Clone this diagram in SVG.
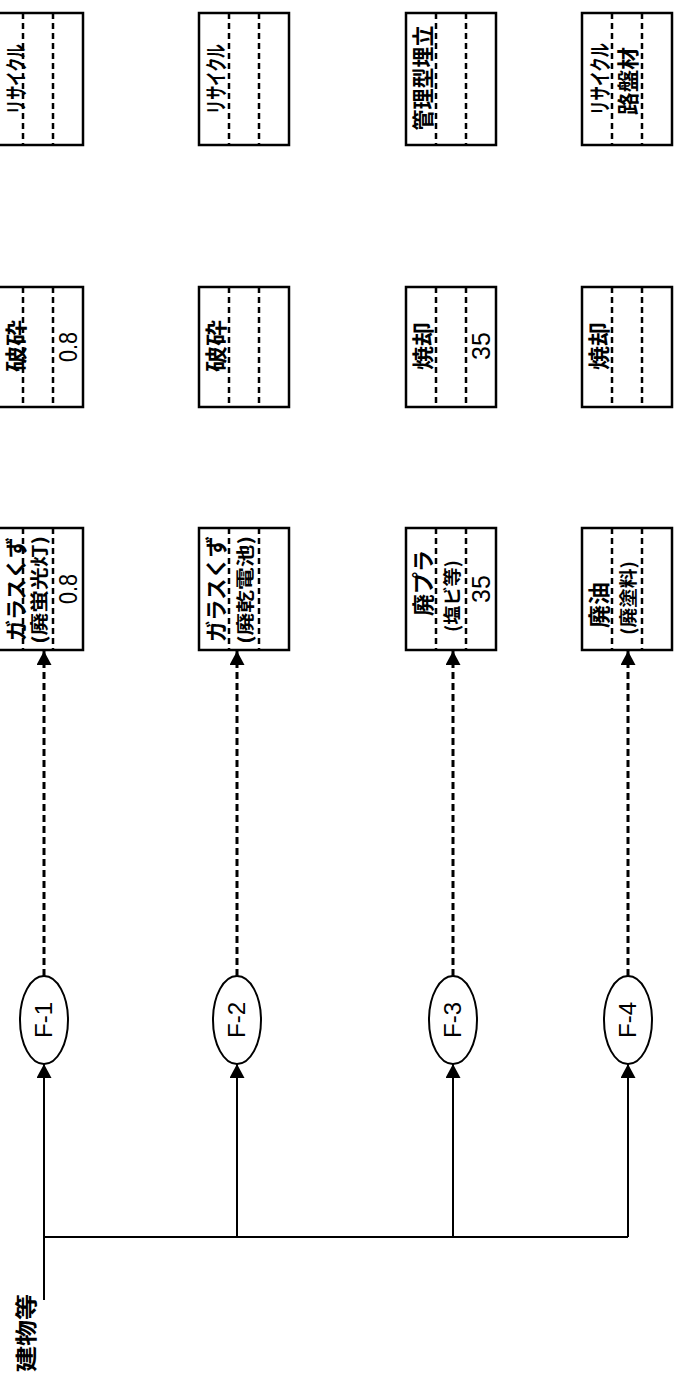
<svg xmlns="http://www.w3.org/2000/svg" width="677" height="1383" viewBox="0 0 677 1383">
<style>
.box{fill:#fff;stroke:#000;stroke-width:2.5}
.div{stroke:#000;stroke-width:2.5;stroke-dasharray:6 4;fill:none}
.jp{font-family:"Noto Sans CJK JP","Noto Sans",sans-serif;font-size:22px;font-weight:bold;fill:#000;text-anchor:middle;dominant-baseline:central}
.sub{font-family:"Noto Sans CJK JP","Noto Sans",sans-serif;font-size:18px;font-weight:bold;fill:#000;text-anchor:middle;dominant-baseline:central}
.num{font-family:"Liberation Sans",Arial,sans-serif;font-size:25px;fill:#000;text-anchor:middle;dominant-baseline:central}
.fl{font-family:"Liberation Sans",Arial,sans-serif;font-size:23px;fill:#000;text-anchor:middle;dominant-baseline:central}
.ell{fill:#fff;stroke:#000;stroke-width:2}
.sol{stroke:#000;stroke-width:2;fill:none}
.dsh{stroke:#000;stroke-width:3;stroke-dasharray:7 4;fill:none}
</style>
<defs>
<marker id="ah" viewBox="0 0 14 15" refX="14" refY="7.5" markerWidth="14" markerHeight="15" markerUnits="userSpaceOnUse" orient="auto"><path d="M0,0 L14,7.5 L0,15 z" fill="#000"/></marker>
</defs>

<g id="connectors">
<path class="sol" d="M44,1300 L44,1237 L628,1237"/>
<line class="sol" x1="44" y1="1237" x2="44" y2="1064" marker-end="url(#ah)"/>
<line class="sol" x1="237" y1="1237" x2="237" y2="1064" marker-end="url(#ah)"/>
<line class="sol" x1="453" y1="1237" x2="453" y2="1064" marker-end="url(#ah)"/>
<line class="sol" x1="628" y1="1237" x2="628" y2="1064" marker-end="url(#ah)"/>
<line class="dsh" x1="44" y1="976" x2="44" y2="651" marker-end="url(#ah)"/>
<line class="dsh" x1="237" y1="976" x2="237" y2="651" marker-end="url(#ah)"/>
<line class="dsh" x1="453" y1="976" x2="453" y2="651" marker-end="url(#ah)"/>
<line class="dsh" x1="628" y1="976" x2="628" y2="651" marker-end="url(#ah)"/>
</g>

<g id="source">
<text class="jp" transform="translate(24,1333) rotate(-90)" textLength="78" lengthAdjust="spacingAndGlyphs">建物等</text>
</g>

<g id="F-1"><ellipse class="ell" cx="44" cy="1020" rx="24" ry="44"/><text class="fl" transform="translate(44,1020) rotate(-90)" textLength="36" lengthAdjust="spacingAndGlyphs">F-1</text></g>
<g id="F-2"><ellipse class="ell" cx="237" cy="1020" rx="24" ry="44"/><text class="fl" transform="translate(237,1020) rotate(-90)" textLength="36" lengthAdjust="spacingAndGlyphs">F-2</text></g>
<g id="F-3"><ellipse class="ell" cx="453" cy="1020" rx="24" ry="44"/><text class="fl" transform="translate(453,1020) rotate(-90)" textLength="36" lengthAdjust="spacingAndGlyphs">F-3</text></g>
<g id="F-4"><ellipse class="ell" cx="628" cy="1020" rx="24" ry="44"/><text class="fl" transform="translate(628,1020) rotate(-90)" textLength="36" lengthAdjust="spacingAndGlyphs">F-4</text></g>

<!-- Row C -->
<g id="c1">
<rect class="box" x="-7" y="528" width="90" height="122"/>
<path class="div" d="M23,528 V650 M53,528 V650"/>
<text class="jp" transform="translate(14,589) rotate(-90)" font-size="17" textLength="104" lengthAdjust="spacingAndGlyphs">ガラスくず</text>
<text class="sub" transform="translate(38,590) rotate(-90)" textLength="108" lengthAdjust="spacingAndGlyphs">(廃蛍光灯)</text>
<text class="num" transform="translate(68,589) rotate(-90)" textLength="30" lengthAdjust="spacingAndGlyphs">0.8</text>
</g>
<g id="c2">
<rect class="box" x="199" y="528" width="90" height="122"/>
<path class="div" d="M229,528 V650 M259,528 V650"/>
<text class="jp" transform="translate(214,589) rotate(-90)" textLength="106" lengthAdjust="spacingAndGlyphs">ガラスくず</text>
<text class="sub" transform="translate(244,590) rotate(-90)" textLength="108" lengthAdjust="spacingAndGlyphs">(廃乾電池)</text>
</g>
<g id="c3">
<rect class="box" x="406" y="528" width="90" height="122"/>
<path class="div" d="M436,528 V650 M466,528 V650"/>
<text class="jp" transform="translate(421,583) rotate(-90)" textLength="66" lengthAdjust="spacingAndGlyphs">廃プラ</text>
<text class="sub" transform="translate(451,596) rotate(-90)" textLength="72" lengthAdjust="spacingAndGlyphs">(塩ビ等)</text>
<text class="num" transform="translate(481,589) rotate(-90)">35</text>
</g>
<g id="c4">
<rect class="box" x="582" y="528" width="90" height="122"/>
<path class="div" d="M612,528 V650 M642,528 V650"/>
<text class="jp" transform="translate(597,605) rotate(-90)" textLength="46" lengthAdjust="spacingAndGlyphs">廃油</text>
<text class="sub" transform="translate(627,598) rotate(-90)" textLength="74" lengthAdjust="spacingAndGlyphs">(廃塗料)</text>
</g>

<!-- Row B -->
<g id="b1">
<rect class="box" x="-7" y="287" width="90" height="120"/>
<path class="div" d="M23,287 V407 M53,287 V407"/>
<text class="jp" transform="translate(14,346) rotate(-90)" font-size="17" textLength="52" lengthAdjust="spacingAndGlyphs">破砕</text>
<text class="num" transform="translate(68,347) rotate(-90)" textLength="30" lengthAdjust="spacingAndGlyphs">0.8</text>
</g>
<g id="b2">
<rect class="box" x="199" y="287" width="90" height="120"/>
<path class="div" d="M229,287 V407 M259,287 V407"/>
<text class="jp" transform="translate(214,346) rotate(-90)" textLength="52" lengthAdjust="spacingAndGlyphs">破砕</text>
</g>
<g id="b3">
<rect class="box" x="406" y="287" width="90" height="120"/>
<path class="div" d="M436,287 V407 M466,287 V407"/>
<text class="jp" transform="translate(421,346) rotate(-90)" textLength="48" lengthAdjust="spacingAndGlyphs">焼却</text>
<text class="num" transform="translate(481,346) rotate(-90)">35</text>
</g>
<g id="b4">
<rect class="box" x="582" y="287" width="90" height="120"/>
<path class="div" d="M612,287 V407 M642,287 V407"/>
<text class="jp" transform="translate(597,346) rotate(-90)" textLength="48" lengthAdjust="spacingAndGlyphs">焼却</text>
</g>

<!-- Row A -->
<g id="a1">
<rect class="box" x="-7" y="13" width="90" height="132"/>
<path class="div" d="M23,13 V145 M53,13 V145"/>
<text class="jp" transform="translate(14,79) rotate(-90)" font-size="17" textLength="70" lengthAdjust="spacingAndGlyphs">リサイクル</text>
</g>
<g id="a2">
<rect class="box" x="199" y="13" width="90" height="132"/>
<path class="div" d="M229,13 V145 M259,13 V145"/>
<text class="jp" transform="translate(214,79) rotate(-90)" textLength="70" lengthAdjust="spacingAndGlyphs">リサイクル</text>
</g>
<g id="a3">
<rect class="box" x="406" y="13" width="90" height="132"/>
<path class="div" d="M436,13 V145 M466,13 V145"/>
<text class="jp" transform="translate(421,78) rotate(-90)" textLength="105" lengthAdjust="spacingAndGlyphs">管理型埋立</text>
</g>
<g id="a4">
<rect class="box" x="582" y="13" width="90" height="132"/>
<path class="div" d="M612,13 V145 M642,13 V145"/>
<text class="jp" transform="translate(598,79) rotate(-90)" textLength="72" lengthAdjust="spacingAndGlyphs">リサイクル</text>
<text class="jp" transform="translate(626,81) rotate(-90)" textLength="68" lengthAdjust="spacingAndGlyphs">路盤材</text>
</g>
</svg>
